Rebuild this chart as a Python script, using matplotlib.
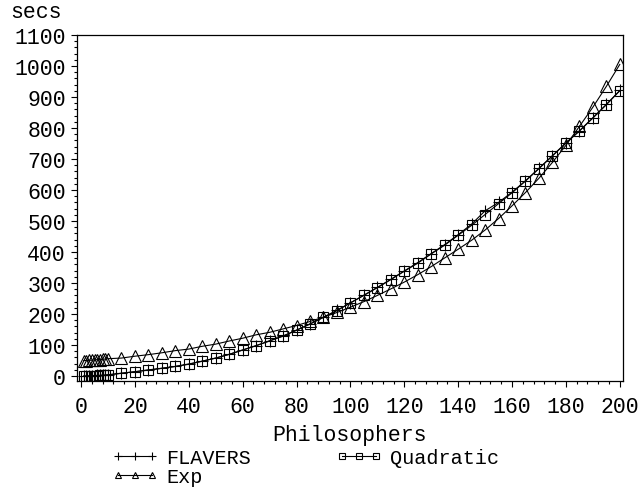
import matplotlib
matplotlib.use("Agg")
import matplotlib.pyplot as plt
from matplotlib.lines import Line2D
from matplotlib.ticker import MultipleLocator

plt.rcParams['font.family'] = ['Liberation Mono', 'DejaVu Sans Mono']

# philosophers (x) and run time in seconds
philosophers = [1, 2, 3, 4, 5, 6, 7, 8, 9, 10,
                15, 20, 25, 30, 35, 40, 45, 50, 55, 60,
                65, 70, 75, 80, 85, 90, 95, 100, 105, 110,
                115, 120, 125, 130, 135, 140, 145, 150, 155, 160,
                165, 170, 175, 180, 185, 190, 195, 200]

quadratic = [0, 0, 0, 1, 1, 1, 2, 2, 3, 4,
             9, 14, 19, 25, 31, 38, 48, 58, 70, 84,
             98, 113, 129, 148, 168, 189, 211, 236, 260, 285,
             311, 338, 364, 394, 422, 454, 486, 521, 556, 591,
             629, 669, 710, 751, 790, 832, 875, 920]

flavers = [0, 0, 1, 1, 1, 2, 2, 3, 3, 4,
           9, 14, 20, 25, 31, 39, 48, 58, 70, 84,
           98, 114, 129, 148, 168, 190, 212, 236, 261, 286,
           312, 339, 366, 395, 424, 456, 490, 533, 560, 593,
           630, 670, 711, 752, 791, 833, 876, 921]

exp = [50, 50, 51, 51, 52, 53, 53, 54, 55, 56,
       58, 64, 69, 75, 82, 87, 96, 103, 113, 122,
       133, 141, 152, 163, 176, 190, 205, 222, 240, 260,
       281, 303, 327, 353, 381, 409, 438, 471, 508, 549,
       592, 638, 689, 744, 805, 867, 934, 1005]

fig = plt.figure(figsize=(6.41, 4.89), dpi=100)
ax = fig.add_axes([77 / 641, 1 - 381.7 / 489, 546 / 641, (381.7 - 36) / 489])

lw = 0.8
ax.plot(philosophers, flavers, color='black', lw=lw, marker='+', ms=8, mew=0.8)
ax.plot(philosophers, quadratic, color='black', lw=lw, marker='s', ms=7.5,
        mfc='none', mew=0.8)
ax.plot(philosophers, exp, color='black', lw=lw, marker='^', ms=8.5,
        mfc='none', mew=0.8)

ax.set_xlim(-1.5, 201.2)
ax.set_ylim(-15, 1100)
ax.xaxis.set_major_locator(MultipleLocator(20))
ax.xaxis.set_minor_locator(MultipleLocator(4))
ax.yaxis.set_major_locator(MultipleLocator(100))
ax.yaxis.set_minor_locator(MultipleLocator(20))
ax.tick_params(which='major', length=4, width=0.8, labelsize=15.5, pad=4)
ax.tick_params(axis='x', which='major', pad=7)
ax.tick_params(which='minor', length=2.5, width=0.8)
for s in ax.spines.values():
    s.set_linewidth(0.9)

ax.set_xlabel('Philosophers', fontsize=15.5, labelpad=5)
fig.text(10 / 641, 1 - 12 / 489, 'secs', fontsize=15.5, ha='left', va='center')

handles = [
    Line2D([], [], color='black', lw=lw, marker='+', ms=6, mew=0.8),
    Line2D([], [], color='black', lw=lw, marker='^', ms=5, mfc='none', mew=0.8),
    Line2D([], [], color='black', lw=lw, marker='s', ms=5, mfc='none', mew=0.8),
]
fig.legend(handles, ['FLAVERS', 'Exp', 'Quadratic'], ncol=2, frameon=False,
           loc='upper left', bbox_to_anchor=(112 / 641, 1 - 449 / 489),
           fontsize=14.5, numpoints=3, handlelength=2.3, handletextpad=0.4,
           columnspacing=4.2, labelspacing=0.0, borderpad=0, borderaxespad=0)

fig.savefig('out.png', dpi=100)
